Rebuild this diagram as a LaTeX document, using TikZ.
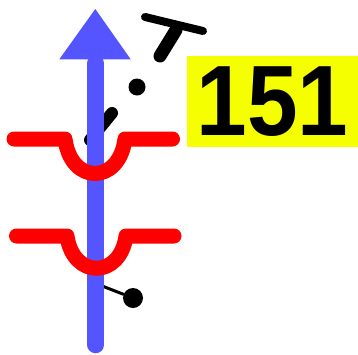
\documentclass[tikz,border=0pt]{standalone}
\usepackage{fontspec}
\setmainfont{Liberation Sans}
\newfontfamily\tagfont[FakeStretch=0.91]{Liberation Sans}
\usepackage{tikz}
\usetikzlibrary{
arrows.meta,
positioning,
calc
}
\definecolor{axisblue}{HTML}{5555FF}
\definecolor{wavered}{HTML}{FF0000}
\definecolor{tagyellow}{HTML}{F5FF00}

\begin{document}
\begin{tikzpicture}[
  x=1pt, y=-1pt,
  shaft/.style={draw=axisblue, line width=16.5pt, line cap=round},
  wave/.style={draw=wavered, line width=15pt, line cap=round, line join=round},
  stick/.style={draw=black, line cap=round},
  blob/.style={circle, fill=black, inner sep=0pt},
  tag/.style={fill=tagyellow, minimum width=171pt, minimum height=91pt, inner sep=0pt, font=\tagfont\fontsize{100}{100}\selectfont\bfseries},
  >=Stealth
]
  \useasboundingbox (0,0) rectangle (358,354);

  % Black marks behind the axis
  \draw[stick, line width=8pt] (145,17) -- (203,31);
  \draw[stick, line width=13pt] (176,30) -- (160,56);
  \node[blob, minimum size=17pt] (d1) at (137,87) {};
  \draw[stick, line width=12pt] (112,113) -- (90,140);
  \node[blob, minimum size=20pt] (d2) at (133,298) {};
  \coordinate (foot) at (97,284);
  \draw[stick, line width=3pt] (foot) -- (d2);

  % Vertical axis
  \coordinate (tail) at (95.7,345);
  \coordinate (neck) at (95.7,59.3);
  \draw[shaft] (tail) -- ($(neck)+(0,4)$);
  \fill[axisblue] (59.3,59.3) -- (130.7,59.3) -- (95.3,9) -- cycle;

  % Red dips
  \draw[wave] (14,139) -- (65,139) .. controls (71,185) and (119,185) .. (125,139) -- (172.5,139);
  \draw[wave] (16.5,236) -- (67,236) .. controls (73,279) and (120,279) .. (126,236) -- (174,236);

  % Label
  \node[tag] (num) at (272.5,101.5) {151};

\end{tikzpicture}
\end{document}
